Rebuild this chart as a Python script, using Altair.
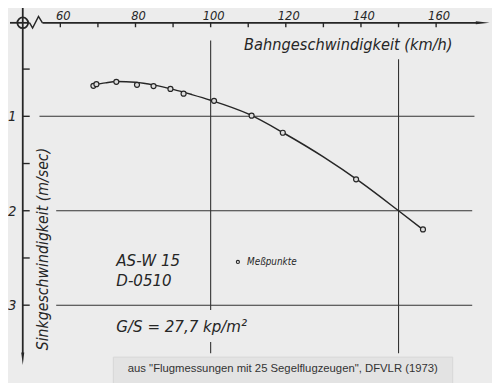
import altair as alt
import pandas as pd

# ---------------- data ----------------
speed_pts = [68.8, 69.6, 74.9, 80.4, 84.8, 89.3, 92.8, 100.9, 110.9, 119.2, 138.7, 156.5]
sink_pts = [0.677, 0.660, 0.635, 0.667, 0.680, 0.710, 0.760, 0.836, 0.993, 1.174, 1.667, 2.198]

curve_speed = [69, 72, 75, 80, 85, 90, 95, 100, 110, 120, 130, 140, 150, 156.5]
curve_sink = [0.667, 0.646, 0.632, 0.640, 0.670, 0.715, 0.770, 0.830, 0.975, 1.190, 1.430, 1.700, 2.000, 2.200]

x_tick_labels = [60, 80, 100, 120, 140, 160]
x_ticks = [60, 70, 80, 90, 100, 110, 120, 130, 140, 150, 160]
y_tick_labels = [1, 2, 3]
y_ticks = [0.5, 1.0, 1.5, 2.0, 2.5, 3.0]

x_title = "Bahngeschwindigkeit (km/h)"
y_title = "Sinkgeschwindigkeit (m/sec)"
notes = ["AS-W 15", "D-0510", "G/S = 27,7 kp/m²"]
legend_label = "Meßpunkte"
source = 'aus "Flugmessungen mit 25 Segelflugzeugen", DFVLR (1973)'

# ---------------- layout (in data units) ----------------
V0 = 50.0      # speed at the vertical axis
W0 = 0.01      # sink at the horizontal axis
INK = "#262626"
FONT = "DejaVu Sans Condensed, DejaVu Sans"

XS = alt.Scale(domain=[50, 170], range=[15, 473.4], nice=False, zero=False)
YS = alt.Scale(domain=[0, 3.8], range=[11, 375.8], nice=False, zero=False)


def enc(x="x", y="y", x2=None, y2=None):
    e = dict(
        x=alt.X(x, type="quantitative", scale=XS, axis=None),
        y=alt.Y(y, type="quantitative", scale=YS, axis=None),
    )
    if x2:
        e["x2"] = alt.X2(x2)
    if y2:
        e["y2"] = alt.Y2(y2)
    return e


# grid lines
grid = pd.DataFrame([
    dict(x=54.45, x2=170.2, y=1.0, y2=1.0),
    dict(x=58.9, x2=169.6, y=2.0, y2=2.0),
    dict(x=58.9, x2=169.6, y=3.0, y2=3.0),
    dict(x=100, x2=100, y=0.198, y2=3.05),
    dict(x=100, x2=100, y=3.39, y2=3.51),
    dict(x=150, x2=150, y=0.396, y2=3.51),
])

# axes lines
axes = pd.DataFrame([
    dict(x=46.6, x2=51.83, y=W0, y2=W0),
    dict(x=55.24, x2=171.0, y=W0, y2=W0),
    dict(x=V0, x2=V0, y=-0.156, y2=3.52),
])
ticks = pd.DataFrame(
    [dict(x=v, x2=v, y=W0, y2=0.057) for v in x_ticks]
    + [dict(x=V0, x2=51.85, y=w, y2=w) for w in y_ticks]
)
zig = pd.DataFrame(dict(x=[51.83, 52.62, 54.19, 55.24], y=[W0, 0.065, -0.058, W0], o=[0, 1, 2, 3]))

box = pd.DataFrame([dict(x=74.1, x2=164.4, y=3.55, y2=3.9)])

grid_l = alt.Chart(grid).mark_rule(color="#333333", strokeWidth=1.1).encode(**enc(x2="x2", y2="y2"))
axes_l = alt.Chart(axes).mark_rule(color=INK, strokeWidth=1.8).encode(**enc(x2="x2", y2="y2"))
ticks_l = alt.Chart(ticks).mark_rule(color=INK, strokeWidth=1.4).encode(**enc(x2="x2", y2="y2"))
zig_l = alt.Chart(zig).mark_line(color=INK, strokeWidth=1.5).encode(order="o:Q", **enc())
box_l = alt.Chart(box).mark_rect(fill="#e3e3e3", stroke="#d6d6d6", strokeWidth=1).encode(**enc(x2="x2", y2="y2"))

origin_l = alt.Chart(pd.DataFrame(dict(x=[V0], y=[W0]))).mark_point(
    shape="circle", size=120, filled=False, stroke=INK, strokeWidth=1.8, opacity=1
).encode(**enc())

arrow_down = alt.Chart(pd.DataFrame(dict(x=[V0], y=[3.568]))).mark_point(
    shape="M -0.23 -1 L 0.23 -1 L 0 1 Z", size=169, filled=True, color=INK, opacity=1
).encode(**enc())
arrow_right = alt.Chart(pd.DataFrame(dict(x=[172.4], y=[W0]))).mark_point(
    shape="M -1 -0.22 L 1 0 L -1 0.22 Z", size=196, filled=True, color=INK, opacity=1
).encode(**enc())

curve_l = alt.Chart(pd.DataFrame(dict(x=curve_speed, y=curve_sink))).mark_line(
    color=INK, strokeWidth=1.5, interpolate="monotone"
).encode(**enc())

pts_l = alt.Chart(pd.DataFrame(dict(x=speed_pts, y=sink_pts))).mark_point(
    shape="circle", size=26, filled=False, stroke=INK, strokeWidth=1.2, fill="#dddddd", fillOpacity=1, opacity=1
).encode(**enc())

# texts
xlab = alt.Chart(pd.DataFrame(dict(x=x_tick_labels, y=[-0.017] * len(x_tick_labels), t=[str(v) for v in x_tick_labels]))).mark_text(
    font=FONT, fontSize=13, fontStyle="italic", color=INK, dx=3, baseline="alphabetic", align="center"
).encode(text="t:N", **enc())
ylab = alt.Chart(pd.DataFrame(dict(x=[47.2] * 3, y=y_tick_labels, t=[str(v) for v in y_tick_labels]))).mark_text(
    font=FONT, fontSize=15, fontStyle="italic", color=INK, baseline="middle", align="center"
).encode(text="t:N", **enc())

xt = alt.Chart(pd.DataFrame(dict(x=[108.9], y=[0.25], t=[x_title]))).mark_text(
    font=FONT, fontSize=16.5, fontStyle="italic", color=INK, baseline="middle", align="left"
).encode(text="t:N", **enc())
yt = alt.Chart(pd.DataFrame(dict(x=[55.3], y=[2.406], t=[y_title]))).mark_text(
    font=FONT, fontSize=16, fontStyle="italic", color=INK, baseline="middle", align="center", angle=270
).encode(text="t:N", **enc())

notes_l = alt.Chart(pd.DataFrame(dict(x=[74.9] * 3, y=[2.531, 2.75, 3.229], t=notes))).mark_text(
    font=FONT, fontSize=17, fontStyle="italic", color=INK, baseline="middle", align="left"
).encode(text="t:N", **enc())

leg_pt = alt.Chart(pd.DataFrame(dict(x=[107.25], y=[2.542]))).mark_point(
    shape="circle", size=10, filled=False, stroke=INK, strokeWidth=1.1, opacity=1
).encode(**enc())
leg_tx = alt.Chart(pd.DataFrame(dict(x=[109.7], y=[2.542], t=[legend_label]))).mark_text(
    font=FONT, fontSize=10, fontStyle="italic", color=INK, baseline="middle", align="left"
).encode(text="t:N", **enc())

src = alt.Chart(pd.DataFrame(dict(x=[119.2], y=[3.674], t=[source]))).mark_text(
    font="Liberation Sans", fontSize=11.5, color="#333333", baseline="middle", align="center"
).encode(text="t:N", **enc())

chart = alt.layer(
    box_l, grid_l, axes_l, ticks_l, zig_l, origin_l, arrow_down, arrow_right,
    curve_l, pts_l, xlab, ylab, xt, yt, notes_l, leg_pt, leg_tx, src
).properties(
    width=492, height=375, padding=0,
    autosize=alt.AutoSizeParams(type="none"),
    background="#ececec",
).configure_view(stroke=None)

chart.save("out.html", embed_options={"renderer": "svg", "actions": False})
